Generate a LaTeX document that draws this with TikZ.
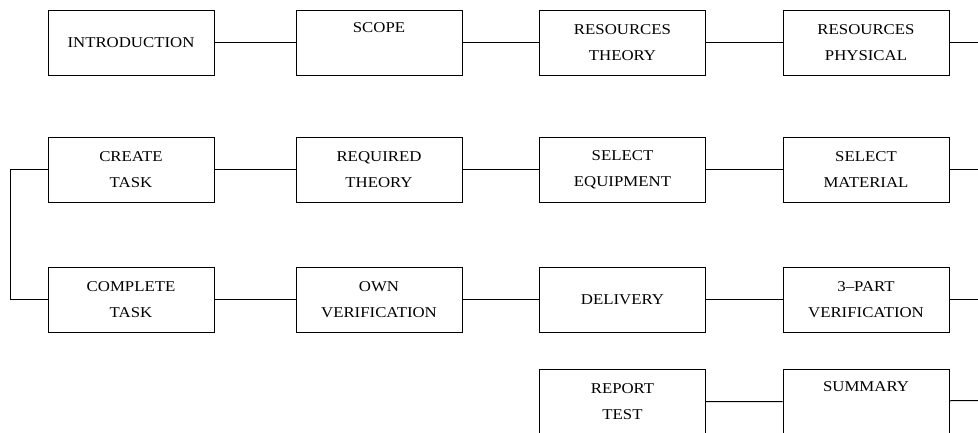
\documentclass[tikz,border=0pt]{standalone}
\usepackage{fontspec}
\setmainfont{Liberation Serif}[FakeStretch=1.12]
\usetikzlibrary{positioning}

\begin{document}
\begin{tikzpicture}[x=1pt, y=-1pt, line width=1pt,
          every node/.style = {shape=rectangle, draw, minimum width=166pt, minimum height=65pt, inner sep=0pt, align=center, font=\fontsize{15}{26}\selectfont},
          node distance=76.5pt]
          \useasboundingbox (0,0) rectangle (978,432);
          \clip (0,0) rectangle (978,432);
          % first row
          \node (intro) at (131,42.5) {INTRODUCTION};
          \node[right=81pt of intro] (scope) {SCOPE\\[-4pt] \strut};
          \node[right=of scope] (restheory) {RESOURCES\\THEORY};
          \node[right=of restheory] (resphys) {RESOURCES\\PHYSICAL};
          % second row
          \node (create) at (131,169.5) {CREATE\\TASK};
          \node[right=81pt of create] (reqtheory) {REQUIRED\\THEORY};
          \node[right=of reqtheory] (selequip) {SELECT\\EQUIPMENT};
          \node[right=of selequip] (selmat) {SELECT\\MATERIAL};
          % third row
          \node (complete) at (131,299.5) {COMPLETE\\TASK};
          \node[right=81pt of complete] (ownver) {OWN\\VERIFICATION};
          \node[right=of ownver] (delivery) {DELIVERY};
          \node[right=of delivery] (partver) {3--PART\\VERIFICATION};
          % last row
          \node[below=36pt of delivery] (report) {REPORT\\TEST};
          \node[right=of report] (summary) {SUMMARY\\[-4pt] \strut};
          % free ends
          \coordinate (out1) at (978,42.5);
          \coordinate (out2) at (978,169.5);
          \coordinate (out3) at (978,299.5);
          \coordinate (out4) at (978,400.5);
          \coordinate (loop) at (10,0);
          \draw (intro) -- (scope) -- (restheory) -- (resphys) -- (out1);
          \draw (create) -- (reqtheory) -- (selequip) -- (selmat) -- (out2);
          \draw (complete) -- (ownver) -- (delivery) -- (partver) -- (out3);
          \draw (report) -- (summary) -- (out4);
          \draw (create.west) -- (create.west -| loop) -- (complete.west -| loop) -- (complete.west);
\end{tikzpicture}
\end{document}
